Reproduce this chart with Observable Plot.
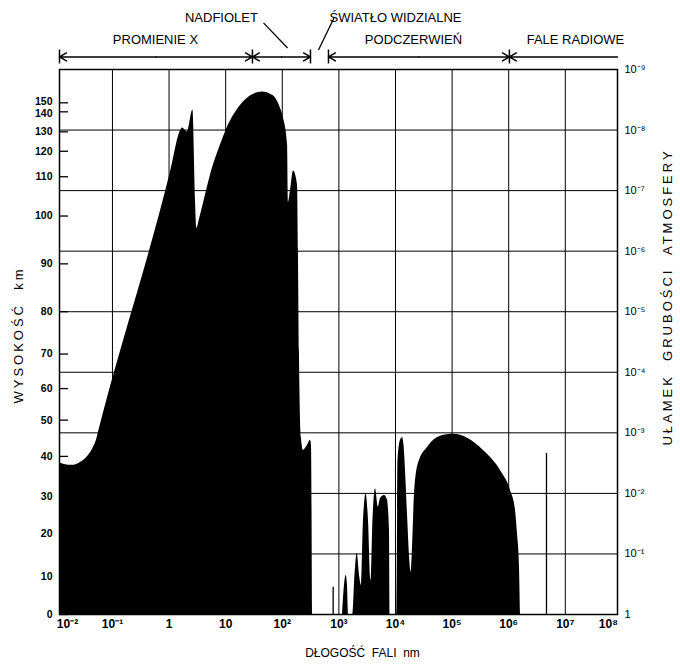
<!DOCTYPE html>
<html><head><meta charset="utf-8">
<script src="https://cdn.jsdelivr.net/npm/d3@7"></script>
<script src="https://cdn.jsdelivr.net/npm/@observablehq/plot@0.6"></script>
<style>
body{margin:0;background:#fff;}
svg text{white-space:pre;}
</style></head><body><div id="chart"></div>
<script>
// --- axis ticks -------------------------------------------------------
const waveTicksNm = [1e-2, 1e-1, 1, 10, 1e2, 1e3, 1e4, 1e5, 1e6, 1e7, 1e8];
const waveTickLabels = ["10⁻²", "10⁻¹", "1", "10", "10²", "10³", "10⁴", "10⁵", "10⁶", "10⁷", "10⁸"];
const fracTicks = [1, 1e-1, 1e-2, 1e-3, 1e-4, 1e-5, 1e-6, 1e-7, 1e-8, 1e-9];
const fracTickLabels = ["1", "10⁻¹", "10⁻²", "10⁻³", "10⁻⁴", "10⁻⁵", "10⁻⁶", "10⁻⁷", "10⁻⁸", "10⁻⁹"];
const altitudeKm = [0, 10, 20, 30, 40, 50, 60, 70, 80, 90, 100, 110, 120, 130, 140, 150];
const altitudeFrac = [1, 0.234, 0.0457, 0.0115, 0.00245, 6.17e-4, 1.86e-4, 5.0e-5, 1.0e-5, 1.62e-6, 2.63e-7, 5.9e-8, 2.24e-8, 1.07e-8, 5.0e-9, 3.55e-9];

// --- absorption: X-ray / UV block (wavelength nm, fraction of atmosphere) ---
const xuvNm = [0.0116, 0.0142, 0.0196, 0.0272, 0.0377, 0.0461, 0.0521, 0.0566, 1.06, 1.59, 1.73, 2.11, 2.64, 2.93, 3.11, 3.44, 5.85, 8.09, 11.2, 15.96, 22.4, 31.3, 44.7, 61.9, 75.9, 92.9, 105, 124, 129, 140, 158, 186, 193, 201, 218, 237, 279, 315, 328, 342];
const xuvFrac = [3.08e-3, 3.32e-3, 3.44e-3, 3.08e-3, 2.36e-3, 1.74e-3, 1.33e-3, 9.8e-4, 4.94e-8, 1.04e-8, 9.27e-9, 1.08e-8, 4.67e-9, 1.44e-7, 4.17e-7, 3.0e-7, 4.25e-8, 1.77e-8, 8.26e-9, 4.67e-9, 3.19e-9, 2.57e-9, 2.36e-9, 2.57e-9, 2.96e-9, 4.38e-9, 6.34e-9, 1.77e-8, 1.55e-7, 9.8e-8, 4.76e-8, 8.1e-8, 1.04e-6, 4.67e-5, 1.23e-3, 1.95e-3, 1.61e-3, 1.33e-3, 1.61e-3, 1];

// --- absorption: infrared bands ---
const irNm = [1158, 1282, 1346, 1419, 1479,
  1762, 1923, 2105, 2339, 2506, 2722, 3034, 3334, 3690, 4000, 4436, 4977, 5433, 6397, 7228, 7834, 8000,
  10640, 11070, 12250, 13300, 14130, 15030, 16480, 17910, 18930, 20370, 21680, 25470, 36730, 62370, 105900, 187200, 358800, 716100, 1.076e6, 1.319e6, 1.429e6, 1.552e6, 1.615e6];
const irFrac = [1, 0.274, 0.227, 0.332, 1,
  1, 0.227, 0.097, 0.242, 0.332, 0.0279, 0.0101, 0.0279, 0.274, 0.0279, 0.00836, 0.0168, 0.0121, 0.0108, 0.0130, 0.0409, 1,
  1, 2.85e-3, 1.33e-3, 1.19e-3, 1.61e-3, 4.17e-3, 0.0279, 0.128, 0.202, 0.0494, 0.01, 0.00319, 0.00174, 0.00114, 0.00106, 0.00123, 0.00195, 0.00417, 0.00892, 0.0191, 0.0458, 0.167, 1];

// --- thin absorption lines ---
const thinLineNm = [793, 4.65e6];
const thinLineFrac = [0.354, 0.00218];

// --- spectral band annotations ---
const bandEdgesNm = [0.0116, 29.7, 315, 655, 1.03e6, 8.36e7];
const bandNames = ["PROMIENIE X", "NADFIOLET", "ŚWIATŁO WIDZIALNE", "PODCZERWIEŃ", "FALE RADIOWE"];
const bandLabelNm = [0.575, 8.43, 1.0e4, 2.08e4, 1.51e7];
const bandLabelFrac = [3.25e-10, 1.41e-10, 1.41e-10, 3.25e-10, 3.25e-10];
const arrowFrac = 6.2e-10;
const barFrac = [4.76e-10, 8.1e-10];
const pointerNm1 = [46.6, 436], pointerFrac1 = [1.70e-10, 4.76e-10];
const pointerNm2 = [124, 836], pointerFrac2 = [4.41e-10, 1.36e-10];

const titleLeft = "WYSOKOŚĆ  km";
const titleRight = "UŁAMEK  GRUBOŚCI  ATMOSFERY";
const titleBottom = "DŁOGOŚĆ  FALI  nm";

// ---------------------------------------------------------------------
const absorption = [
  ...xuvNm.map((nm, i) => ({nm, frac: xuvFrac[i], band: "xuv"})),
  ...irNm.map((nm, i) => ({nm, frac: irFrac[i], band: "ir"}))
];
const thinLines = thinLineNm.map((nm, i) => ({nm, frac: thinLineFrac[i]}));
const altitudes = altitudeKm.map((km, i) => ({km: String(km), frac: altitudeFrac[i]}));
const altMain = altitudes.filter(d => d.km !== "140" && d.km !== "150");
const alt150 = altitudes.filter(d => d.km === "150");
const alt140 = altitudes.filter(d => d.km === "140");
const gm = (a, b) => Math.sqrt(a * b);
const e = bandEdgesNm;
const arrowSegs = [
  {x1: gm(e[0], e[1]), x2: e[0]}, {x1: gm(e[0], e[1]), x2: e[1]},
  {x1: gm(e[1], e[2]), x2: e[1]}, {x1: gm(e[1], e[2]), x2: e[2]},
  {x1: gm(e[3], e[4]), x2: e[3]}, {x1: gm(e[3], e[4]), x2: e[4]},
  {x1: e[5], x2: e[4]}
];
const bandLabels = bandNames.map((t, i) => ({t, nm: bandLabelNm[i], frac: bandLabelFrac[i]}));
const pointers = [
  {x1: pointerNm1[0], y1: pointerFrac1[0], x2: pointerNm2[0], y2: pointerFrac2[0]},
  {x1: pointerNm1[1], y1: pointerFrac1[1], x2: pointerNm2[1], y2: pointerFrac2[1]}
];
const waveLabel = new Map(waveTicksNm.map((v, i) => [v, waveTickLabels[i]]));
const fracLabel = new Map(fracTicks.map((v, i) => [v, fracTickLabels[i]]));
const font = "'Liberation Sans', Arial, sans-serif";
const altText = {y: "frac", text: "km", frameAnchor: "left", textAnchor: "end", dx: -7, fontSize: 10.5, fontWeight: "bold"};

const chart = Plot.plot({
  width: 680, height: 667,
  marginLeft: 59, marginRight: 63, marginTop: 69, marginBottom: 53,
  style: {fontFamily: font, fontSize: "11px", color: "black", background: "white", overflow: "visible"},
  x: {type: "log", domain: [0.0116, 8.36e7], axis: null, label: null},
  y: {type: "log", domain: [1, 1e-9], axis: null, label: null},
  marks: [
    Plot.gridX(waveTicksNm.slice(1, -1), {stroke: "black", strokeOpacity: 1, strokeWidth: 1}),
    Plot.gridY(fracTicks.slice(1, -1), {stroke: "black", strokeOpacity: 1, strokeWidth: 1}),
    Plot.areaY(absorption, {x: "nm", y1: 1, y2: "frac", z: "band", fill: "black", curve: "monotone-x"}),
    Plot.ruleX(thinLines, {x: "nm", y1: 1, y2: "frac", stroke: "black", strokeWidth: 1.3}),
    Plot.frame({stroke: "black", strokeWidth: 1.5}),
    // x axis labels
    Plot.axisX(waveTicksNm.slice(1, -1), {anchor: "bottom", tickSize: 0, tickPadding: 5, label: null, fontSize: 12, fontWeight: "bold", tickFormat: d => waveLabel.get(d)}),
    Plot.axisX([waveTicksNm[0]], {anchor: "bottom", tickSize: 0, tickPadding: 5, label: null, fontSize: 12, fontWeight: "bold", textAnchor: "start", dx: 1, tickFormat: d => waveLabel.get(d)}),
    Plot.axisX([waveTicksNm[waveTicksNm.length - 1]], {anchor: "bottom", tickSize: 0, tickPadding: 5, label: null, fontSize: 12, fontWeight: "bold", textAnchor: "end", dx: -4, tickFormat: d => waveLabel.get(d)}),
    // left altitude axis: inward ticks + labels
    Plot.axisY(altitudeFrac, {anchor: "left", tickSize: 9, dx: 9, fill: "none", label: null, strokeWidth: 1.3}),
    Plot.text(altMain, altText),
    Plot.text(alt150, {...altText, dy: -1.5}),
    Plot.text(alt140, {...altText, dy: 1.5}),
    // right fraction axis
    Plot.axisY(fracTicks, {anchor: "right", tickSize: 0, tickPadding: 7, label: null, fontSize: 11, tickFormat: d => fracLabel.get(d)}),
    // band annotations above
    Plot.ruleX(bandEdgesNm.slice(0, 5), {y1: barFrac[0], y2: barFrac[1], stroke: "black", strokeWidth: 1.5}),
    Plot.arrow(arrowSegs, {x1: "x1", x2: "x2", y1: arrowFrac, y2: arrowFrac, headLength: 8, stroke: "black", strokeWidth: 1.5}),
    Plot.link(pointers, {x1: "x1", y1: "y1", x2: "x2", y2: "y2", stroke: "black", strokeWidth: 1.3}),
    Plot.text(bandLabels, {x: "nm", y: "frac", text: "t", fontSize: 13}),
    // axis titles
    Plot.text([titleLeft], {text: d => d, frameAnchor: "left", textAnchor: "middle", rotate: -90, dx: -41, dy: -7, fontSize: 13}),
    Plot.text([titleRight], {text: d => d, frameAnchor: "right", textAnchor: "middle", rotate: -90, dx: 50, dy: -45, fontSize: 13}),
    Plot.text([titleBottom], {text: d => d, frameAnchor: "bottom", textAnchor: "middle", dx: 24, dy: 42, fontSize: 12})
  ]
});
d3.select(chart).selectAll("text")
  .filter(function() { return this.textContent === titleLeft || this.textContent === titleRight; })
  .style("letter-spacing", "3px");
document.getElementById("chart").appendChild(chart);
</script></body></html>
